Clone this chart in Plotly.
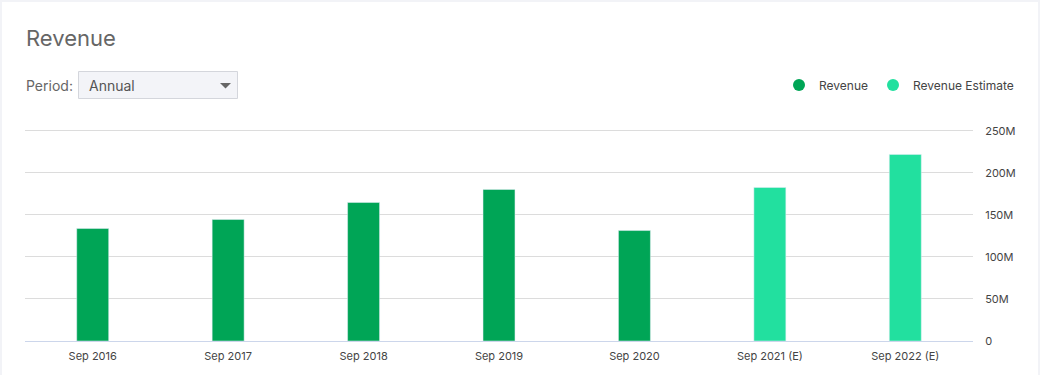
import plotly.graph_objects as go

categories = ["Sep 2016", "Sep 2017", "Sep 2018", "Sep 2019", "Sep 2020", "Sep 2021 (E)", "Sep 2022 (E)"]
revenue_cats = ["Sep 2016", "Sep 2017", "Sep 2018", "Sep 2019", "Sep 2020"]
revenue_vals = [133.7e6, 144.4e6, 164.6e6, 180.1e6, 131.3e6]
estimate_cats = ["Sep 2021 (E)", "Sep 2022 (E)"]
estimate_vals = [182.5e6, 221.8e6]
y_tickvals = [0, 50e6, 100e6, 150e6, 200e6, 250e6]
y_ticktext = ["0", "50M", "100M", "150M", "200M", "250M"]

REV = "#00a556"
EST = "#22e09f"
FONT = "Inter, Roboto, 'Open Sans', sans-serif"

W, H = 1040, 375
L, R, T, B = 25, 67, 129, 34
PW = W - L - R
PH = H - T - B

def px_x(p):
    return (p - L) / PW

def px_y(p):
    return (H - B - p) / PH

fig = go.Figure()
fig.add_trace(go.Bar(x=revenue_cats, y=revenue_vals, marker_color=REV, width=0.236,
                     showlegend=False, name="Revenue"))
fig.add_trace(go.Bar(x=estimate_cats, y=estimate_vals, marker_color=EST, width=0.236,
                     showlegend=False, name="Revenue Estimate"))
fig.add_trace(go.Scatter(x=[None], y=[None], mode="markers", name="Revenue",
                         marker=dict(color=REV, size=10, symbol="circle")))
fig.add_trace(go.Scatter(x=[None], y=[None], mode="markers", name="Revenue Estimate",
                         marker=dict(color=EST, size=10, symbol="circle")))

shapes = [
    # white card
    dict(type="rect", xref="paper", yref="paper", x0=px_x(2), x1=px_x(1038),
         y0=px_y(380), y1=px_y(2), fillcolor="white", line=dict(width=0), layer="below"),
    # dropdown box
    dict(type="rect", xref="paper", yref="paper", x0=px_x(78.5), x1=px_x(237.5),
         y0=px_y(98.5), y1=px_y(71.5), fillcolor="#f3f4f8",
         line=dict(color="#d4d6dc", width=1), layer="above"),
    # dropdown arrow
    dict(type="path", xref="paper", yref="paper",
         path=f"M {px_x(220)} {px_y(83)} L {px_x(231)} {px_y(83)} L {px_x(225.5)} {px_y(88.5)} Z",
         fillcolor="#666666", line=dict(width=0), layer="above"),
]

annotations = [
    dict(text="Revenue", xref="paper", yref="paper", x=px_x(24), y=px_y(38),
         xanchor="left", yanchor="middle", showarrow=False,
         font=dict(family=FONT, size=22, color="#666666")),
    dict(text="Period:", xref="paper", yref="paper", x=px_x(24), y=px_y(85),
         xanchor="left", yanchor="middle", showarrow=False,
         font=dict(family=FONT, size=14, color="#666666")),
    dict(text="Annual", xref="paper", yref="paper", x=px_x(87), y=px_y(85),
         xanchor="left", yanchor="middle", showarrow=False,
         font=dict(family=FONT, size=14, color="#555555")),
]

fig.update_layout(
    width=W, height=H,
    margin=dict(l=L, r=R, t=T, b=B, pad=0),
    paper_bgcolor="#f2f3f7",
    plot_bgcolor="white",
    barmode="overlay",
    font=dict(family=FONT, size=11, color="#444444"),
    shapes=shapes,
    annotations=annotations,
    legend=dict(orientation="h", x=px_x(1019), y=px_y(85), xanchor="right", yanchor="middle",
                bgcolor="rgba(0,0,0,0)", font=dict(family=FONT, size=12, color="#444444"),
                itemsizing="constant", traceorder="normal"),
    xaxis=dict(categoryorder="array", categoryarray=categories, type="category",
               showgrid=False, showline=True, linecolor="#ccd6eb", linewidth=1,
               ticks="outside", ticklen=5, tickcolor="rgba(0,0,0,0)",
               tickfont=dict(family=FONT, size=11, color="#444444"),
               range=[-0.5, len(categories) - 0.5], fixedrange=True),
    yaxis=dict(side="right", range=[0, 252e6], tickvals=y_tickvals, ticktext=y_ticktext,
               showgrid=True, gridcolor="#dcdcdc", gridwidth=1, zeroline=False,
               ticks="outside", ticklen=9, tickcolor="rgba(0,0,0,0)",
               tickfont=dict(family=FONT, size=11, color="#444444"), fixedrange=True),
)

fig.write_html("out.html", config={"displayModeBar": False},
               post_script="document.body.style.margin='0';document.body.style.overflow='hidden';")
